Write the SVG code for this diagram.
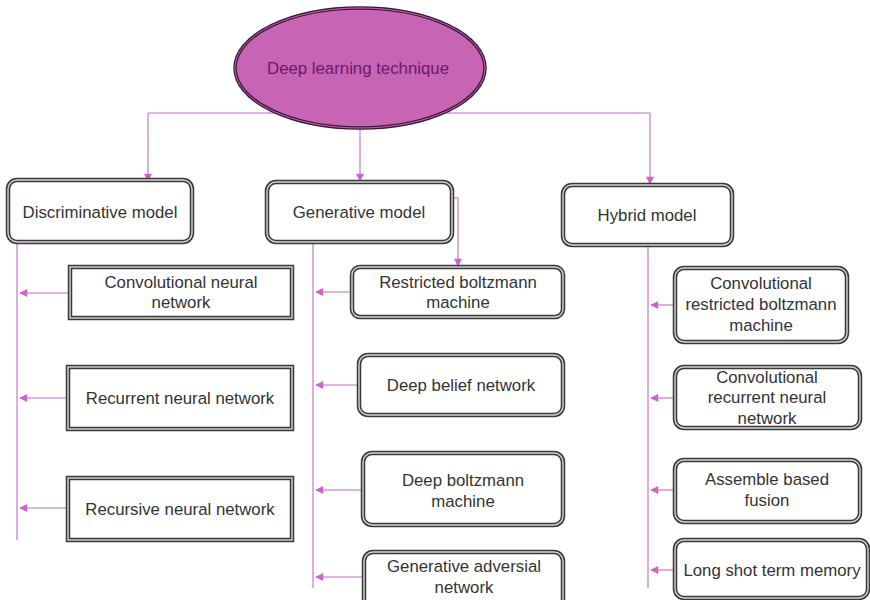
<svg xmlns="http://www.w3.org/2000/svg" width="870" height="600" viewBox="0 0 870 600">
<defs>
<style>
.t{font-family:"Liberation Sans",Arial,sans-serif;font-size:16.8px;fill:#333;text-anchor:middle}
.b{fill:#fff;stroke:#3a3a3a;stroke-width:4.5}
.bi{fill:none;stroke:#d4d4d4;stroke-width:1.4}
.c{fill:none;stroke:#d49ad8;stroke-width:1.6}
</style>
<marker id="ah" viewBox="0 0 10 10" refX="9" refY="5" markerWidth="9" markerHeight="8" markerUnits="userSpaceOnUse" orient="auto">
<path d="M0,0 L10,5 L0,10 Z" fill="#d060cc"/>
</marker>
</defs>
<rect width="870" height="600" fill="#fff"/>

<g id="connectors">
<path class="c" d="M148,113 H650"/>
<path class="c" d="M148,113 V181" marker-end="url(#ah)"/>
<path class="c" d="M360,128 V181" marker-end="url(#ah)"/>
<path class="c" d="M650,113 V184" marker-end="url(#ah)"/>
<path class="c" d="M452,198 H458 V266" marker-end="url(#ah)"/>
<path class="c" d="M17,242 V540"/>
<path class="c" d="M313,242 V588"/>
<path class="c" d="M648,245 V588"/>
<path class="c" d="M70,293 H20" marker-end="url(#ah)"/>
<path class="c" d="M68,398 H20" marker-end="url(#ah)"/>
<path class="c" d="M68,508 H20" marker-end="url(#ah)"/>
<path class="c" d="M352,292 H316" marker-end="url(#ah)"/>
<path class="c" d="M359,385 H316" marker-end="url(#ah)"/>
<path class="c" d="M363,490 H316" marker-end="url(#ah)"/>
<path class="c" d="M364,577 H316" marker-end="url(#ah)"/>
<path class="c" d="M675,305 H651" marker-end="url(#ah)"/>
<path class="c" d="M675,398 H651" marker-end="url(#ah)"/>
<path class="c" d="M675,490 H651" marker-end="url(#ah)"/>
<path class="c" d="M675,570 H651" marker-end="url(#ah)"/>
</g>

<g id="root">
<ellipse cx="360" cy="68" rx="125" ry="60" fill="#c864b4" stroke="#3a1a3a" stroke-width="3.5"/>
<ellipse cx="360" cy="68" rx="125" ry="60" fill="none" stroke="#c864b4" stroke-width="1"/>
<text x="358" y="74" class="t" style="fill:#6a1a6a">Deep learning technique</text>
</g>

<g id="discriminative">
<rect class="b" x="8" y="180" width="184" height="62" rx="9"/>
<rect class="bi" x="8" y="180" width="184" height="62" rx="9"/>
<text class="t" x="100" y="218">Discriminative model</text>
</g>
<g id="generative">
<rect class="b" x="267" y="182" width="185" height="60" rx="9"/>
<rect class="bi" x="267" y="182" width="185" height="60" rx="9"/>
<text class="t" x="359" y="218">Generative model</text>
</g>
<g id="hybrid">
<rect class="b" x="563" y="185" width="169" height="60" rx="9"/>
<rect class="bi" x="563" y="185" width="169" height="60" rx="9"/>
<text class="t" x="647" y="221">Hybrid model</text>
</g>

<g id="cnn">
<rect class="b" x="70" y="267" width="222" height="51"/>
<rect class="bi" x="70" y="267" width="222" height="51"/>
<text class="t" x="181" y="288">Convolutional neural</text>
<text class="t" x="181" y="308">network</text>
</g>
<g id="rnn">
<rect class="b" x="68" y="367" width="224" height="62"/>
<rect class="bi" x="68" y="367" width="224" height="62"/>
<text class="t" x="180" y="404">Recurrent neural network</text>
</g>
<g id="recnn">
<rect class="b" x="68" y="478" width="224" height="62"/>
<rect class="bi" x="68" y="478" width="224" height="62"/>
<text class="t" x="180" y="515">Recursive neural network</text>
</g>

<g id="rbm">
<rect class="b" x="352" y="267" width="211" height="50" rx="8"/>
<rect class="bi" x="352" y="267" width="211" height="50" rx="8"/>
<text class="t" x="458" y="288">Restricted boltzmann</text>
<text class="t" x="458" y="308">machine</text>
</g>
<g id="dbn">
<rect class="b" x="359" y="355" width="204" height="60" rx="9"/>
<rect class="bi" x="359" y="355" width="204" height="60" rx="9"/>
<text class="t" x="461" y="391">Deep belief network</text>
</g>
<g id="dbm">
<rect class="b" x="363" y="453" width="200" height="72" rx="9"/>
<rect class="bi" x="363" y="453" width="200" height="72" rx="9"/>
<text class="t" x="463" y="486">Deep boltzmann</text>
<text class="t" x="463" y="507">machine</text>
</g>
<g id="gan">
<rect class="b" x="364" y="552" width="199" height="60" rx="9"/>
<rect class="bi" x="364" y="552" width="199" height="60" rx="9"/>
<text class="t" x="464" y="572">Generative adversial</text>
<text class="t" x="464" y="593">network</text>
</g>

<g id="crbm">
<rect class="b" x="675" y="268" width="172" height="74" rx="9"/>
<rect class="bi" x="675" y="268" width="172" height="74" rx="9"/>
<text class="t" x="761" y="289">Convolutional</text>
<text class="t" x="761" y="310">restricted boltzmann</text>
<text class="t" x="761" y="331">machine</text>
</g>
<g id="crnn">
<rect class="b" x="675" y="367" width="185" height="61" rx="9"/>
<rect class="bi" x="675" y="367" width="185" height="61" rx="9"/>
<text class="t" x="767" y="383">Convolutional</text>
<text class="t" x="767" y="403">recurrent neural</text>
<text class="t" x="767" y="424">network</text>
</g>
<g id="abf">
<rect class="b" x="675" y="460" width="185" height="62" rx="9"/>
<rect class="bi" x="675" y="460" width="185" height="62" rx="9"/>
<text class="t" x="767" y="485">Assemble based</text>
<text class="t" x="767" y="506">fusion</text>
</g>
<g id="lstm">
<rect class="b" x="675" y="540" width="193" height="58" rx="9"/>
<rect class="bi" x="675" y="540" width="193" height="58" rx="9"/>
<text class="t" x="772" y="576">Long shot term memory</text>
</g>
</svg>
